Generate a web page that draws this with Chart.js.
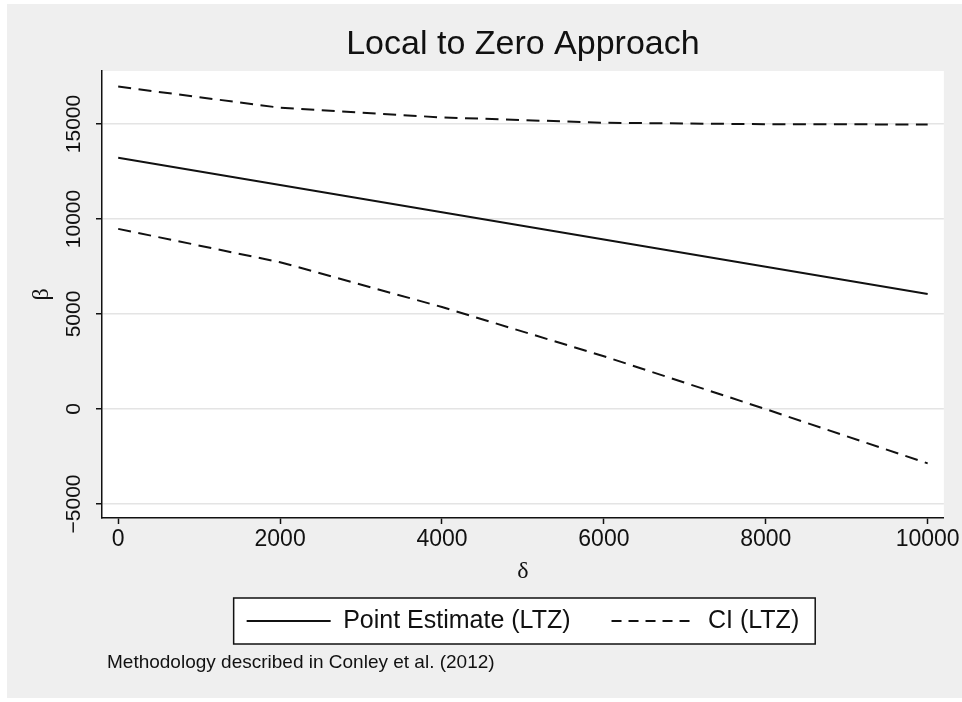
<!DOCTYPE html>
<html>
<head>
<meta charset="utf-8">
<title>Local to Zero Approach</title>
<script src="https://cdn.jsdelivr.net/npm/chart.js@4.4.0/dist/chart.umd.min.js"></script>
<style>
  html, body { margin: 0; padding: 0; background: #fff; }
  #wrap { width: 962px; height: 702px; }
</style>
</head>
<body>
<div id="wrap"><canvas id="chart" width="962" height="702"></canvas></div>
<script>
// values
const deltas = [0, 2000, 4000, 6000, 8000, 10000];
const pointEstimate = [13225, 11790, 10355, 8920, 7490, 6055];
const ciUpper = [16970, 15855, 15345, 15067, 14990, 14975];
const ciLower = [9480, 7725, 5365, 2773, -10, -2865];
const xTicks = [0, 2000, 4000, 6000, 8000, 10000];
const yTicks = [-5000, 0, 5000, 10000, 15000];
const seriesLabels = ['Point Estimate (LTZ)', 'CI (LTZ)'];
const noteText = 'Methodology described in Conley et al. (2012)';

const ink = '#111';
const sans = "'Liberation Sans', Arial, Helvetica, sans-serif";
const serif = "'Liberation Serif', 'Times New Roman', serif";

const pts = (ys) => deltas.map((d, i) => ({ x: d, y: ys[i] }));

// stata-ish frame: grey graph region, white plot region, white boxed legend
const stataFrame = {
  id: 'stataFrame',
  afterLayout(chart) {
    // note sits a little right of the plot edge
    chart.boxes.forEach((b) => {
      if (b.options && b.options.text === noteText) b.left += 5;
    });
  },
  beforeDraw(chart) {
    const { ctx, chartArea: a, width, height } = chart;
    ctx.save();
    ctx.fillStyle = '#fff';
    ctx.fillRect(0, 0, width, height);
    ctx.fillStyle = '#efefef';
    ctx.fillRect(7, 4, width - 7, height - 8);
    ctx.fillStyle = '#fff';
    ctx.fillRect(a.left, a.top, a.right - a.left, a.bottom - a.top);
    const hb = chart.legend && chart.legend.legendHitBoxes;
    if (hb && hb.length) {
      const last = hb[hb.length - 1];
      const left = hb[0].left - 13;
      const right = last.left + last.width + 16;
      const cy = hb[0].top + hb[0].height / 2;
      ctx.fillRect(left, cy - 23, right - left, 46);
      ctx.strokeStyle = ink;
      ctx.lineWidth = 1.5;
      ctx.strokeRect(left, cy - 23, right - left, 46);
    }
    ctx.restore();
  }
};

new Chart(document.getElementById('chart'), {
  type: 'line',
  data: {
    datasets: [
      { label: seriesLabels[0], data: pts(pointEstimate), borderColor: ink, borderWidth: 2, pointRadius: 0, tension: 0 },
      { label: seriesLabels[1], data: pts(ciUpper), borderColor: ink, borderWidth: 2, borderDash: [13, 7.5], pointRadius: 0, tension: 0 },
      { label: seriesLabels[1], data: pts(ciLower), borderColor: ink, borderWidth: 2, borderDash: [13, 7.5], pointRadius: 0, tension: 0 }
    ]
  },
  options: {
    responsive: false,
    animation: false,
    devicePixelRatio: 1,
    layout: { padding: { top: 0, right: 18, bottom: 0, left: 0 } },
    scales: {
      x: {
        type: 'linear', min: -200, max: 10200,
        afterBuildTicks: (s) => { s.ticks = xTicks.map((v) => ({ value: v })); },
        afterFit: (s) => { s.height = 49.5; },
        grid: { drawOnChartArea: false, tickLength: 6, tickColor: ink, tickWidth: 1.5 },
        border: { display: true, color: ink, width: 1.5 },
        ticks: { color: ink, padding: 2, autoSkip: false, maxRotation: 0, font: { family: sans, size: 23 }, callback: (v) => String(v) },
        title: { display: true, text: 'δ', color: ink, font: { family: serif, size: 24 }, padding: { top: 0, bottom: -19 } }
      },
      y: {
        min: -5740, max: 17790,
        afterBuildTicks: (s) => { s.ticks = yTicks.map((v) => ({ value: v })); },
        afterFit: (s) => { s.width = 102; },
        grid: { color: '#e4e4e4', lineWidth: 1.5, tickLength: 6, tickColor: ink, tickWidth: 1.5 },
        border: { display: true, color: ink, width: 1.5 },
        ticks: {
          color: ink, minRotation: 90, maxRotation: 90, crossAlign: 'center', padding: -8,
          font: { family: sans, size: 21 },
          callback: (v) => (v < 0 ? '\u2212' + Math.abs(v) : String(v))
        },
        title: { display: true, text: 'β', color: ink, font: { family: serif, size: 24 }, padding: { top: 27, bottom: 0 } }
      }
    },
    plugins: {
      tooltip: { enabled: false },
      title: {
        display: true, text: 'Local to Zero Approach', color: ink, fullSize: false,
        font: { family: sans, size: 34, weight: 'normal' }, padding: { top: 24, bottom: 6.2 }
      },
      subtitle: {
        display: true, position: 'bottom', align: 'start', fullSize: false,
        text: noteText, color: ink,
        font: { family: sans, size: 19 }, padding: { top: 8, bottom: 27.7 }
      },
      legend: {
        display: true, position: 'bottom', fullSize: false,
        labels: {
          usePointStyle: true, pointStyle: 'line', pointStyleWidth: 84, boxHeight: 10, padding: 41,
          color: ink, font: { family: sans, size: 25 },
          filter: (item) => item.datasetIndex < 2,
          generateLabels: (chart) => Chart.defaults.plugins.legend.labels.generateLabels(chart).map((item) => ({
            ...item, lineWidth: 2, strokeStyle: ink, lineDash: item.datasetIndex === 1 ? [10, 7] : []
          }))
        }
      }
    }
  },
  plugins: [stataFrame]
});
</script>
</body>
</html>
